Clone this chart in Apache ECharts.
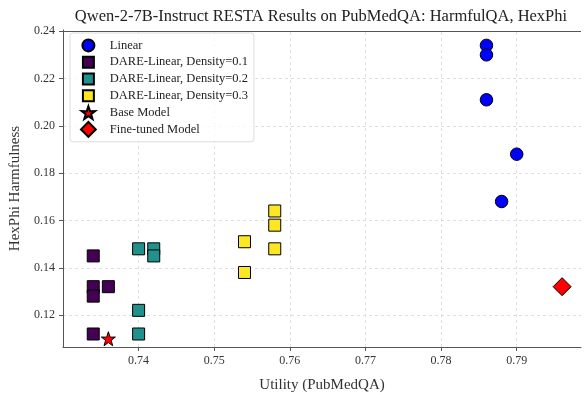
<!DOCTYPE html>
<html>
<head>
<meta charset="utf-8">
<script src="https://cdn.jsdelivr.net/npm/echarts@6/dist/echarts.min.js"></script>
<style>html,body{margin:0;padding:0;background:#fff}#c{width:585px;height:398px}</style>
</head>
<body>
<div id="c"></div>
<script>
// Utility (x) vs HexPhi harmfulness (y) for each merge method
const linearPts   = [[0.786, 0.234], [0.786, 0.230], [0.786, 0.211], [0.790, 0.188], [0.788, 0.168]];
const dare01Pts   = [[0.734, 0.145], [0.734, 0.132], [0.734, 0.128], [0.734, 0.112], [0.736, 0.132]];
const dare02Pts   = [[0.740, 0.148], [0.740, 0.122], [0.740, 0.112], [0.742, 0.148], [0.742, 0.145]];
const dare03Pts   = [[0.754, 0.151], [0.754, 0.138], [0.758, 0.164], [0.758, 0.158], [0.758, 0.148]];
const basePts     = [[0.736, 0.110]];
const finetunePts = [[0.796, 0.132]];

const xTicks = [0.74, 0.75, 0.76, 0.77, 0.78, 0.79];
const yTicks = [0.12, 0.14, 0.16, 0.18, 0.20, 0.22, 0.24];

const FONT = '"Liberation Serif", "DejaVu Serif", serif';
const STAR = 'path://M50,0 L61.8,35.1 L97.6,34.5 L69,56 L79.4,90.5 L50,70 L20.6,90.5 L31,56 L2.4,34.5 L38.2,35.1 Z';

// Legend icons: the leading moveTo points fix a 100x100 box, so smaller shapes
// sit inside it while the diamond fills the whole slot.
const BOX = 'path://M0,0 M100,100 ';
const ICON_CIRCLE = BOX + 'M90.5,50 A40.5,40.5 0 1,0 9.5,50 A40.5,40.5 0 1,0 90.5,50 Z';
const ICON_RECT = BOX + 'M13,13 L87,13 L87,87 L13,87 Z';
const ICON_STAR = BOX + 'M50,7 L61.2,40.3 L95.2,39.8 L68.1,60.2 L77.9,93 L50,73.5 L22.1,93 L32,60.2 L4.8,39.8 L38.8,40.3 Z';

function scatter(name, data, symbol, size, color) {
  return {
    name, type: 'scatter', data, symbol, symbolSize: size,
    itemStyle: { color, borderColor: '#000', borderWidth: 1, opacity: 1 },
    emphasis: { disabled: true }, z: 3
  };
}

const chart = echarts.init(document.getElementById('c'), null, { renderer: 'canvas' });
chart.setOption({
  animation: false,
  backgroundColor: '#fff',
  title: {
    text: 'Qwen-2-7B-Instruct RESTA Results on PubMedQA: HarmfulQA, HexPhi',
    left: 316, top: 3, textAlign: 'center',
    textStyle: { fontFamily: FONT, fontSize: 16.5, fontWeight: 'normal', color: '#222' }
  },
  grid: { left: 58, right: 4, top: 30, bottom: 50 },
  legend: {
    orient: 'vertical', left: 70, top: 33,
    padding: [4, 6, 4, 10], itemGap: 0, itemWidth: 14.8, itemHeight: 14.8,
    borderColor: '#ddd', borderWidth: 1, borderRadius: 3, backgroundColor: 'rgba(255,255,255,0.8)',
    textStyle: { fontFamily: FONT, fontSize: 12.5, lineHeight: 14, color: '#222', padding: [0, 0, 0, 9] },
    data: [
      { name: 'Linear', icon: ICON_CIRCLE },
      { name: 'DARE-Linear, Density=0.1', icon: ICON_RECT },
      { name: 'DARE-Linear, Density=0.2', icon: ICON_RECT },
      { name: 'DARE-Linear, Density=0.3', icon: ICON_RECT },
      { name: 'Base Model', icon: ICON_STAR },
      { name: 'Fine-tuned Model', icon: 'diamond' }
    ]
  },
  xAxis: {
    type: 'value', min: 0.7300, max: 0.7985,
    name: 'Utility (PubMedQA)', nameLocation: 'middle', nameGap: 31,
    nameTextStyle: { fontFamily: FONT, fontSize: 15, color: '#333' },
    axisLine: { show: true, onZero: false, lineStyle: { color: '#555', width: 1 } },
    axisTick: { show: true, length: 4, customValues: xTicks, lineStyle: { color: '#555' } },
    axisLabel: { customValues: xTicks, fontFamily: FONT, fontSize: 12, color: '#333', formatter: v => v.toFixed(2) },
    splitLine: { show: false }
  },
  yAxis: {
    type: 'value', min: 0.1065, max: 0.2405,
    name: 'HexPhi Harmfulness', nameLocation: 'middle', nameGap: 40,
    nameTextStyle: { fontFamily: FONT, fontSize: 15, color: '#333' },
    axisLine: { show: true, onZero: false, lineStyle: { color: '#555', width: 1 } },
    axisTick: { show: true, length: 4, customValues: yTicks, lineStyle: { color: '#555' } },
    axisLabel: { customValues: yTicks, fontFamily: FONT, fontSize: 12, color: '#333', formatter: v => v.toFixed(2) },
    splitLine: { show: false }
  },
  series: [
    scatter('Linear', linearPts, 'circle', 12.5, '#0000ff'),
    scatter('DARE-Linear, Density=0.1', dare01Pts, 'rect', 12, '#440154'),
    scatter('DARE-Linear, Density=0.2', dare02Pts, 'rect', 12, '#21918c'),
    scatter('DARE-Linear, Density=0.3', dare03Pts, 'rect', 12, '#fde725'),
    scatter('Base Model', basePts, STAR, 14, '#ff0000'),
    scatter('Fine-tuned Model', finetunePts, 'diamond', 18, '#ff0000'),
    {
      // dashed grid lines and right/top frame, kept beneath the markers
      type: 'line', data: [], silent: true, z: 0,
      markLine: {
        z: 0,
        symbol: 'none', silent: true, label: { show: false },
        lineStyle: { type: [3, 3], color: '#d8d8d8', width: 0.8 },
        data: [
          ...xTicks.map(v => ({ xAxis: v })),
          ...yTicks.map(v => ({ yAxis: v })),
          { xAxis: 0.7985, lineStyle: { type: 'solid', color: '#555', width: 1 } },
          { yAxis: 0.2405, lineStyle: { type: 'solid', color: '#555', width: 1 } }
        ]
      }
    }
  ]
});
</script>
</body>
</html>
